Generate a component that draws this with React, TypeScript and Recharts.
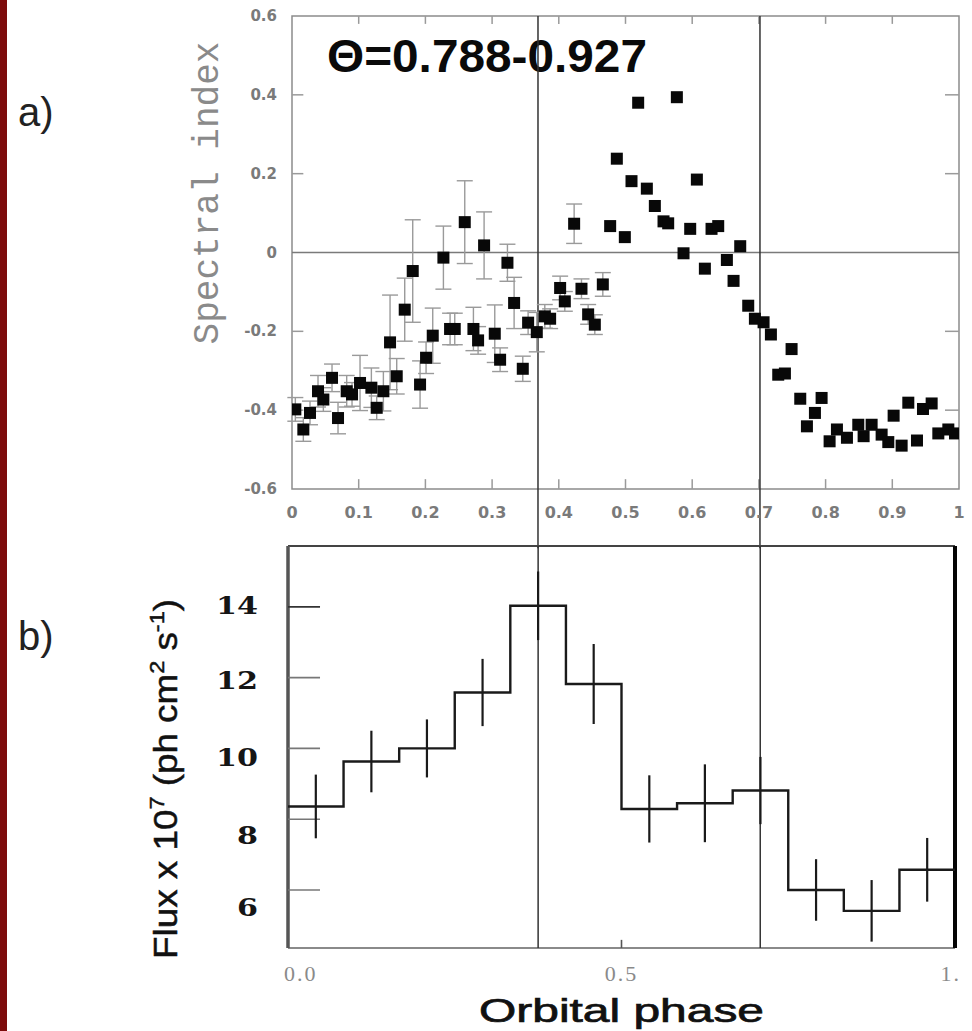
import React from 'react';
import {
  ScatterChart,
  ComposedChart,
  Scatter,
  Line,
  XAxis,
  YAxis,
  ErrorBar,
  ReferenceLine,
  ReferenceArea,
} from 'recharts';

// ---------- panel a) : spectral index vs orbital phase ----------
// points that carry error bars
const errPhase = [
  0.005, 0.017, 0.027, 0.039, 0.047, 0.06, 0.069, 0.082, 0.09, 0.102, 0.119, 0.127, 0.137, 0.147,
  0.157, 0.169, 0.181, 0.192, 0.201, 0.211, 0.227, 0.237, 0.244, 0.259, 0.272, 0.279, 0.288, 0.304,
  0.312, 0.323, 0.333, 0.346, 0.354, 0.367, 0.379, 0.387, 0.402, 0.409, 0.423, 0.434, 0.444, 0.454,
  0.466,
];
const errIndex = [
  -0.398, -0.449, -0.407, -0.352, -0.373, -0.318, -0.42, -0.352, -0.36, -0.331, -0.343, -0.394,
  -0.352, -0.228, -0.314, -0.145, -0.047, -0.335, -0.267, -0.211, -0.013, -0.194, -0.194, 0.077,
  -0.194, -0.223, 0.018, -0.206, -0.272, -0.026, -0.128, -0.295, -0.178, -0.202, -0.162, -0.168,
  -0.09, -0.124, 0.073, -0.092, -0.157, -0.183, -0.081,
];
const errSize = [
  0.03, 0.03, 0.03, 0.04, 0.03, 0.035, 0.04, 0.04, 0.03, 0.07, 0.05, 0.03, 0.05, 0.12, 0.045, 0.08,
  0.13, 0.06, 0.04, 0.07, 0.08, 0.04, 0.04, 0.105, 0.055, 0.035, 0.085, 0.073, 0.03, 0.047, 0.065,
  0.032, 0.03, 0.05, 0.03, 0.025, 0.03, 0.025, 0.05, 0.025, 0.025, 0.025, 0.03,
];
// points drawn without error bars
const lonePhase = [
  0.477, 0.487, 0.499, 0.509, 0.519, 0.532, 0.544, 0.557, 0.564, 0.577, 0.587, 0.597, 0.607, 0.619,
  0.629, 0.639, 0.652, 0.662, 0.672, 0.684, 0.694, 0.707, 0.718, 0.729, 0.739, 0.749, 0.762, 0.772,
  0.784, 0.794, 0.806, 0.817, 0.832, 0.849, 0.857, 0.869, 0.884, 0.894, 0.902, 0.914, 0.924, 0.937,
  0.946, 0.959, 0.969, 0.984, 0.994,
];
const loneIndex = [
  0.067, 0.238, 0.039, 0.181, 0.38, 0.162, 0.118, 0.079, 0.074, 0.394, -0.002, 0.06, 0.185, -0.041,
  0.06, 0.067, -0.019, -0.072, 0.016, -0.135, -0.168, -0.177, -0.208, -0.31, -0.307, -0.245, -0.371,
  -0.441, -0.407, -0.369, -0.479, -0.449, -0.47, -0.437, -0.466, -0.437, -0.462, -0.481, -0.414,
  -0.49, -0.381, -0.477, -0.397, -0.383, -0.459, -0.449, -0.459,
];
const indexTicks = [-0.6, -0.4, -0.2, 0, 0.2, 0.4, 0.6];
const indexTickLabels = ['-0.6', '-0.4', '-0.2', '0', '0.2', '0.4', '0.6'];
const phaseTicksA = [0, 0.1, 0.2, 0.3, 0.4, 0.5, 0.6, 0.7, 0.8, 0.9, 1];
const phaseTickLabelsA = ['0', '0.1', '0.2', '0.3', '0.4', '0.5', '0.6', '0.7', '0.8', '0.9', '1'];
const markersA = [0.3688, 0.7016];
const titleA = 'Θ=0.788-0.927';

// ---------- panel b) : flux light curve ----------
const binEdges = [0, 0.0833, 0.1667, 0.25, 0.3333, 0.4167, 0.5, 0.5833, 0.6667, 0.75, 0.8333, 0.9167, 1];
const binCenters = [0.0417, 0.125, 0.2083, 0.2917, 0.375, 0.4583, 0.5417, 0.625, 0.7083, 0.7917, 0.875, 0.9583];
const binFlux = [8.36, 9.63, 10.0, 11.58, 14.03, 11.82, 8.29, 8.45, 8.81, 6.0, 5.41, 6.57];
const binFluxErr = [0.9, 0.87, 0.82, 0.95, 0.97, 1.13, 0.95, 1.1, 0.95, 0.87, 0.87, 0.9];
const fluxTicks = [6, 8, 10, 12, 14];
const phaseTicksB = [0, 0.5, 1];
const phaseTickLabelsB = ['0.0', '0.5', '1.'];
const markersB = [0.375, 0.708];

const errData = errPhase.map((p, i) => ({ phase: p, index: errIndex[i], err: errSize[i] }));
const loneData = lonePhase.map((p, i) => ({ phase: p, index: loneIndex[i] }));
const stepData = binEdges.map((p, i) => ({ phase: p, flux: binFlux[Math.min(i, binFlux.length - 1)] }));
const binData = binCenters.map((p, i) => ({ phase: p, flux: binFlux[i], err: binFluxErr[i] }));

const Y_MIN_B = 4.36;
const Y_MAX_B = 15.72;

const Square = (props: any) => {
  const { cx, cy } = props;
  if (cx == null || cy == null) return <g />;
  return <rect x={cx - 6} y={cy - 6} width={12} height={12} fill="#080808" />;
};
const Nothing = () => <g />;

const IndexTick = (props: any) => {
  const { x, y, payload } = props;
  const i = indexTicks.indexOf(payload.value);
  return (
    <text x={x} y={y} textAnchor="end" dominantBaseline="central" fontFamily="DejaVu Sans" fontWeight="bold" fontSize={15} fill="#7a7a7a">
      {indexTickLabels[i]}
    </text>
  );
};

const PhaseTickA = (props: any) => {
  const { x, y, payload } = props;
  const i = phaseTicksA.indexOf(payload.value);
  return (
    <text x={x} y={y} textAnchor="middle" dominantBaseline="central" fontFamily="DejaVu Sans" fontWeight="bold" fontSize={16} fill="#7a7a7a">
      {phaseTickLabelsA[i]}
    </text>
  );
};

// printed flux labels sit slightly lower than their tick marks
const fluxLabelNudge: Record<number, number> = { 14: -1, 12: 3, 10: 9, 8: 16, 6: 18 };

const FluxTick = (props: any) => {
  const { x, y, payload } = props;
  const label = String(payload.value);
  return (
    <text
      x={x}
      y={y + (fluxLabelNudge[payload.value] || 0)}
      textAnchor="end"
      dominantBaseline="central"
      fontFamily="DejaVu Serif"
      fontWeight="bold"
      fontSize={24}
      fill="#151515"
      textLength={label.length * 21}
      lengthAdjust="spacingAndGlyphs"
    >
      {label}
    </text>
  );
};

const PhaseTickB = (props: any) => {
  const { x, y, payload } = props;
  const i = phaseTicksB.indexOf(payload.value);
  const anchor = i === 0 ? 'start' : i === phaseTicksB.length - 1 ? 'end' : 'middle';
  const shift = i === 0 ? -4 : i === phaseTicksB.length - 1 ? 6 : 0;
  return (
    <text
      x={x + shift}
      y={y}
      textAnchor={anchor}
      dominantBaseline="central"
      fontFamily="Liberation Serif"
      fontSize={22}
      fill="#8a8a8a"
      letterSpacing={2}
    >
      {phaseTickLabelsB[i]}
    </text>
  );
};

const SpectralLabel = (props: any) => {
  const vb = props.viewBox || { x: 0, y: 0 };
  const cx = vb.x - 14;
  const cy = vb.y + 177;
  return (
    <text
      transform={`translate(${cx},${cy}) rotate(-90)`}
      textAnchor="middle"
      fontFamily="Liberation Mono"
      fontSize={36}
      fill="#8a8a8a"
      textLength={303}
      lengthAdjust="spacingAndGlyphs"
    >
      Spectral index
    </text>
  );
};

const FluxLabel = (props: any) => {
  const vb = props.viewBox || { x: 0, y: 0 };
  const cx = vb.x - 51;
  const cy = vb.y + 233;
  return (
    <text
      transform={`translate(${cx},${cy}) rotate(-90)`}
      textAnchor="middle"
      fontFamily="Liberation Sans"
      fontSize={33}
      fill="#111"
      stroke="#111"
      strokeWidth={0.5}
      textLength={360}
      lengthAdjust="spacingAndGlyphs"
    >
      Flux x 10
      <tspan fontSize={21} dy={-13}>7</tspan>
      <tspan dy={13}> (ph cm</tspan>
      <tspan fontSize={21} dy={-13}>2</tspan>
      <tspan dy={13}> s</tspan>
      <tspan fontSize={21} dy={-13}>-1</tspan>
      <tspan dy={13}>)</tspan>
    </text>
  );
};

const PhaseLabel = (props: any) => {
  const vb = props.viewBox || { x: 0, y: 0, width: 0 };
  return (
    <text
      x={vb.x + vb.width / 2}
      y={vb.y + 74}
      textAnchor="middle"
      fontFamily="Liberation Sans"
      fontSize={33}
      fill="#111"
      stroke="#111"
      strokeWidth={0.7}
      textLength={285}
      lengthAdjust="spacingAndGlyphs"
    >
      Orbital phase
    </text>
  );
};

const TitleLabel = (props: any) => {
  const vb = props.viewBox || { x: 0, y: 0 };
  return (
    <text
      x={vb.x + 35}
      y={vb.y + 56}
      fontFamily="Liberation Sans"
      fontWeight="bold"
      fontSize={46}
      fill="#0a0a0a"
      textLength={320}
      lengthAdjust="spacingAndGlyphs"
    >
      {titleA}
    </text>
  );
};

const PanelTag = ({ text, top }: { text: string; top: number }) => (
  <svg width={80} height={60} style={{ position: 'absolute', left: 0, top }}>
    <text x={18} y={44} fontFamily="Liberation Sans" fontSize={40} fill="#222">
      {text}
    </text>
  </svg>
);

export default function App() {
  return (
    <div style={{ position: 'absolute', left: 0, top: 0, width: 972, height: 1031, background: '#fff', overflow: 'hidden' }}>
      <div style={{ position: 'absolute', left: 0, top: 0, width: 7, height: 1031, background: '#7d0b0b' }} />
      <PanelTag text="a)" top={82} />
      <PanelTag text="b)" top={606} />

      <div style={{ position: 'absolute', left: 0, top: 0 }}>
        <ScatterChart width={972} height={560} margin={{ top: 16, right: 13, bottom: 41, left: 232 }}>
          <XAxis
            type="number"
            dataKey="phase"
            domain={[0, 1]}
            ticks={phaseTicksA}
            interval={0}
            height={30}
            axisLine={false}
            tickLine={false}
            tickSize={0}
            tickMargin={23}
            tick={<PhaseTickA />}
            allowDataOverflow
          />
          <YAxis
            type="number"
            dataKey="index"
            domain={[-0.6, 0.6]}
            ticks={indexTicks}
            interval={0}
            width={60}
            axisLine={false}
            tickLine={false}
            tickSize={0}
            tickMargin={15}
            tick={<IndexTick />}
            label={<SpectralLabel />}
            allowDataOverflow
          />
          <ReferenceArea x1={0} x2={1} y1={-0.6} y2={0.6} fill="none" stroke="#8c8c8c" strokeWidth={1.5} label={<TitleLabel />} />
          <ReferenceLine y={0} stroke="#7a7a7a" strokeWidth={1.5} />
          {[0.4, 0.2, -0.2, -0.4].map((v) => (
            <ReferenceLine key={`l${v}`} segment={[{ x: 0, y: v }, { x: 0.017, y: v }]} stroke="#9a9a9a" strokeWidth={1.5} />
          ))}
          {[0.4, 0.2, -0.2, -0.4].map((v) => (
            <ReferenceLine key={`r${v}`} segment={[{ x: 0.979, y: v }, { x: 1, y: v }]} stroke="#9a9a9a" strokeWidth={1.5} />
          ))}
          {phaseTicksA.slice(1, -1).map((v) => (
            <ReferenceLine key={`b${v}`} segment={[{ x: v, y: -0.6 }, { x: v, y: -0.575 }]} stroke="#9a9a9a" strokeWidth={1.5} />
          ))}
          {phaseTicksA.slice(1, -1).map((v) => (
            <ReferenceLine key={`t${v}`} segment={[{ x: v, y: 0.6 }, { x: v, y: 0.58 }]} stroke="#9a9a9a" strokeWidth={1.5} />
          ))}
          {markersA.map((v) => (
            <ReferenceLine
              key={`m${v}`}
              segment={[{ x: v, y: 0.6 }, { x: v, y: -0.75 }]}
              ifOverflow="visible"
              stroke="#333"
              strokeWidth={1.5}
            />
          ))}
          <Scatter data={errData} dataKey="index" shape={<Square />} isAnimationActive={false}>
            <ErrorBar dataKey="err" direction="y" width={8} stroke="#9a9a9a" strokeWidth={1.4} />
          </Scatter>
          <Scatter data={loneData} dataKey="index" shape={<Square />} isAnimationActive={false} />
        </ScatterChart>
      </div>

      <div style={{ position: 'absolute', left: 0, top: 500 }}>
        <ComposedChart width={972} height={531} margin={{ top: 46, right: 17, bottom: 43, left: 228 }}>
          <XAxis
            type="number"
            dataKey="phase"
            domain={[0, 1]}
            ticks={phaseTicksB}
            interval={0}
            height={40}
            axisLine={false}
            tickLine={false}
            tickSize={0}
            tickMargin={25}
            tick={<PhaseTickB />}
            label={<PhaseLabel />}
            allowDataOverflow
          />
          <YAxis
            type="number"
            dataKey="flux"
            domain={[Y_MIN_B, Y_MAX_B]}
            ticks={fluxTicks}
            interval={0}
            width={60}
            axisLine={false}
            tickLine={false}
            tickSize={0}
            tickMargin={30}
            tick={<FluxTick />}
            label={<FluxLabel />}
            allowDataOverflow
          />
          <ReferenceLine y={Y_MIN_B} stroke="#8a8a8a" strokeWidth={2} />
          <ReferenceLine y={Y_MAX_B} stroke="#444" strokeWidth={2} />
          <ReferenceLine x={0} stroke="#555" strokeWidth={3.5} />
          <ReferenceLine x={1} stroke="#050505" strokeWidth={4} />
          {fluxTicks.map((v) => (
            <ReferenceLine
              key={`f${v}`}
              segment={[{ x: 0, y: v }, { x: 0.048, y: v }]}
              stroke={v === 14 ? '#333' : '#777'}
              strokeWidth={1.6}
            />
          ))}
          <ReferenceLine segment={[{ x: 0.5, y: Y_MIN_B }, { x: 0.5, y: Y_MIN_B + 0.23 }]} stroke="#555" strokeWidth={1.6} />
          {markersB.map((v) => (
            <ReferenceLine key={`mb${v}`} x={v} stroke="#333" strokeWidth={1.5} />
          ))}
          <Line
            data={stepData}
            dataKey="flux"
            type="stepAfter"
            stroke="#1a1a1a"
            strokeWidth={2.4}
            dot={false}
            isAnimationActive={false}
          />
          <Scatter data={binData} dataKey="flux" shape={<Nothing />} isAnimationActive={false}>
            <ErrorBar dataKey="err" direction="y" width={0} stroke="#1a1a1a" strokeWidth={2.2} />
          </Scatter>
        </ComposedChart>
      </div>
    </div>
  );
}
